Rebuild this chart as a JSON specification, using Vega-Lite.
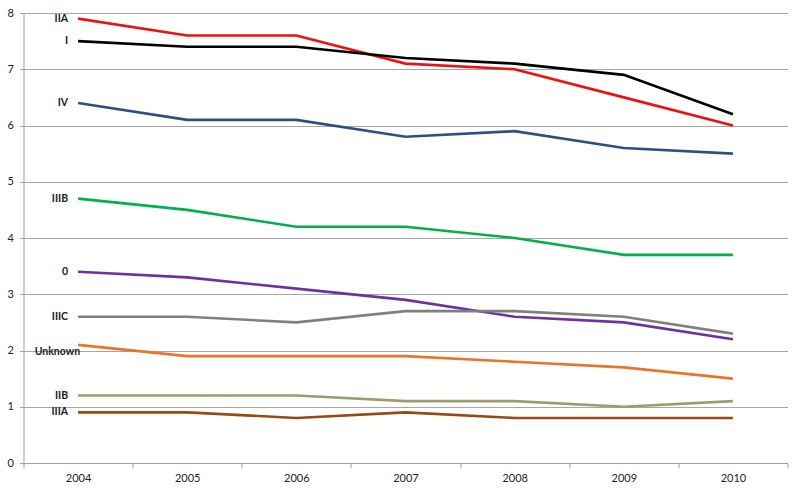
{
  "$schema": "https://vega.github.io/schema/vega-lite/v6.json",
  "width": 764,
  "height": 450,
  "autosize": {"type": "none"},
  "padding": {"left": 23.5, "top": 13, "right": 12.5, "bottom": 29},
  "background": "white",
  "config": {
    "font": "Lato",
    "view": {"stroke": null},
    "axis": {"labelFont": "Lato", "labelColor": "#222222", "labelFontSize": 11}
  },
  "data": {
    "values": [
      {"series": "IIA", "year": "2004", "value": 7.9},
      {"series": "IIA", "year": "2005", "value": 7.6},
      {"series": "IIA", "year": "2006", "value": 7.6},
      {"series": "IIA", "year": "2007", "value": 7.1},
      {"series": "IIA", "year": "2008", "value": 7.0},
      {"series": "IIA", "year": "2009", "value": 6.5},
      {"series": "IIA", "year": "2010", "value": 6.0},
      {"series": "I", "year": "2004", "value": 7.5},
      {"series": "I", "year": "2005", "value": 7.4},
      {"series": "I", "year": "2006", "value": 7.4},
      {"series": "I", "year": "2007", "value": 7.2},
      {"series": "I", "year": "2008", "value": 7.1},
      {"series": "I", "year": "2009", "value": 6.9},
      {"series": "I", "year": "2010", "value": 6.2},
      {"series": "IV", "year": "2004", "value": 6.4},
      {"series": "IV", "year": "2005", "value": 6.1},
      {"series": "IV", "year": "2006", "value": 6.1},
      {"series": "IV", "year": "2007", "value": 5.8},
      {"series": "IV", "year": "2008", "value": 5.9},
      {"series": "IV", "year": "2009", "value": 5.6},
      {"series": "IV", "year": "2010", "value": 5.5},
      {"series": "IIIB", "year": "2004", "value": 4.7},
      {"series": "IIIB", "year": "2005", "value": 4.5},
      {"series": "IIIB", "year": "2006", "value": 4.2},
      {"series": "IIIB", "year": "2007", "value": 4.2},
      {"series": "IIIB", "year": "2008", "value": 4.0},
      {"series": "IIIB", "year": "2009", "value": 3.7},
      {"series": "IIIB", "year": "2010", "value": 3.7},
      {"series": "0", "year": "2004", "value": 3.4},
      {"series": "0", "year": "2005", "value": 3.3},
      {"series": "0", "year": "2006", "value": 3.1},
      {"series": "0", "year": "2007", "value": 2.9},
      {"series": "0", "year": "2008", "value": 2.6},
      {"series": "0", "year": "2009", "value": 2.5},
      {"series": "0", "year": "2010", "value": 2.2},
      {"series": "IIIC", "year": "2004", "value": 2.6},
      {"series": "IIIC", "year": "2005", "value": 2.6},
      {"series": "IIIC", "year": "2006", "value": 2.5},
      {"series": "IIIC", "year": "2007", "value": 2.7},
      {"series": "IIIC", "year": "2008", "value": 2.7},
      {"series": "IIIC", "year": "2009", "value": 2.6},
      {"series": "IIIC", "year": "2010", "value": 2.3},
      {"series": "Unknown", "year": "2004", "value": 2.1},
      {"series": "Unknown", "year": "2005", "value": 1.9},
      {"series": "Unknown", "year": "2006", "value": 1.9},
      {"series": "Unknown", "year": "2007", "value": 1.9},
      {"series": "Unknown", "year": "2008", "value": 1.8},
      {"series": "Unknown", "year": "2009", "value": 1.7},
      {"series": "Unknown", "year": "2010", "value": 1.5},
      {"series": "IIB", "year": "2004", "value": 1.2},
      {"series": "IIB", "year": "2005", "value": 1.2},
      {"series": "IIB", "year": "2006", "value": 1.2},
      {"series": "IIB", "year": "2007", "value": 1.1},
      {"series": "IIB", "year": "2008", "value": 1.1},
      {"series": "IIB", "year": "2009", "value": 1.0},
      {"series": "IIB", "year": "2010", "value": 1.1},
      {"series": "IIIA", "year": "2004", "value": 0.9},
      {"series": "IIIA", "year": "2005", "value": 0.9},
      {"series": "IIIA", "year": "2006", "value": 0.8},
      {"series": "IIIA", "year": "2007", "value": 0.9},
      {"series": "IIIA", "year": "2008", "value": 0.8},
      {"series": "IIIA", "year": "2009", "value": 0.8},
      {"series": "IIIA", "year": "2010", "value": 0.8}
    ]
  },
  "encoding": {
    "x": {
      "field": "year",
      "type": "ordinal",
      "bandPosition": 0.5,
      "scale": {"type": "band", "paddingInner": 0, "paddingOuter": 0},
      "axis": {
        "title": null,
        "labelAngle": 0,
        "tickBand": "extent",
        "domainColor": "#A0A0A0",
        "tickColor": "#A0A0A0",
        "tickSize": 5,
        "labelPadding": 4,
        "grid": false
      }
    },
    "y": {
      "field": "value",
      "type": "quantitative",
      "scale": {"domain": [0, 8], "nice": false},
      "axis": {
        "title": null,
        "values": [0, 1, 2, 3, 4, 5, 6, 7, 8],
        "labelOverlap": false,
        "grid": true,
        "gridColor": "#A6A6A6",
        "gridWidth": 1,
        "domainColor": "#A0A0A0",
        "tickColor": "#A0A0A0",
        "tickSize": 4,
        "labelPadding": 6
      }
    },
    "color": {
      "field": "series",
      "type": "nominal",
      "legend": null,
      "scale": {
        "domain": ["IIA", "I", "IV", "IIIB", "0", "IIIC", "Unknown", "IIB", "IIIA"],
        "range": ["#EE1111", "#000000", "#2F4F80", "#00B050", "#7030A0", "#808080", "#E8752A", "#9C9C6C", "#984A12"]
      }
    }
  },
  "layer": [
    {
      "mark": {"type": "line", "strokeWidth": 2.6}
    },
    {
      "transform": [{"filter": "datum.year == '2004' && datum.series != 'Unknown'"}],
      "mark": {"type": "text", "align": "right", "baseline": "middle", "dx": -10, "fontWeight": "bold", "fontSize": 10.5, "color": "#222222"},
      "encoding": {"text": {"field": "series"}, "color": {"value": "#222222"}}
    },
    {
      "transform": [{"filter": "datum.year == '2004' && datum.series == 'Unknown'"}],
      "mark": {"type": "text", "align": "right", "baseline": "middle", "dx": 2, "dy": 7, "fontWeight": "bold", "fontSize": 10.5, "color": "#222222"},
      "encoding": {"text": {"field": "series"}, "color": {"value": "#222222"}}
    }
  ]
}
